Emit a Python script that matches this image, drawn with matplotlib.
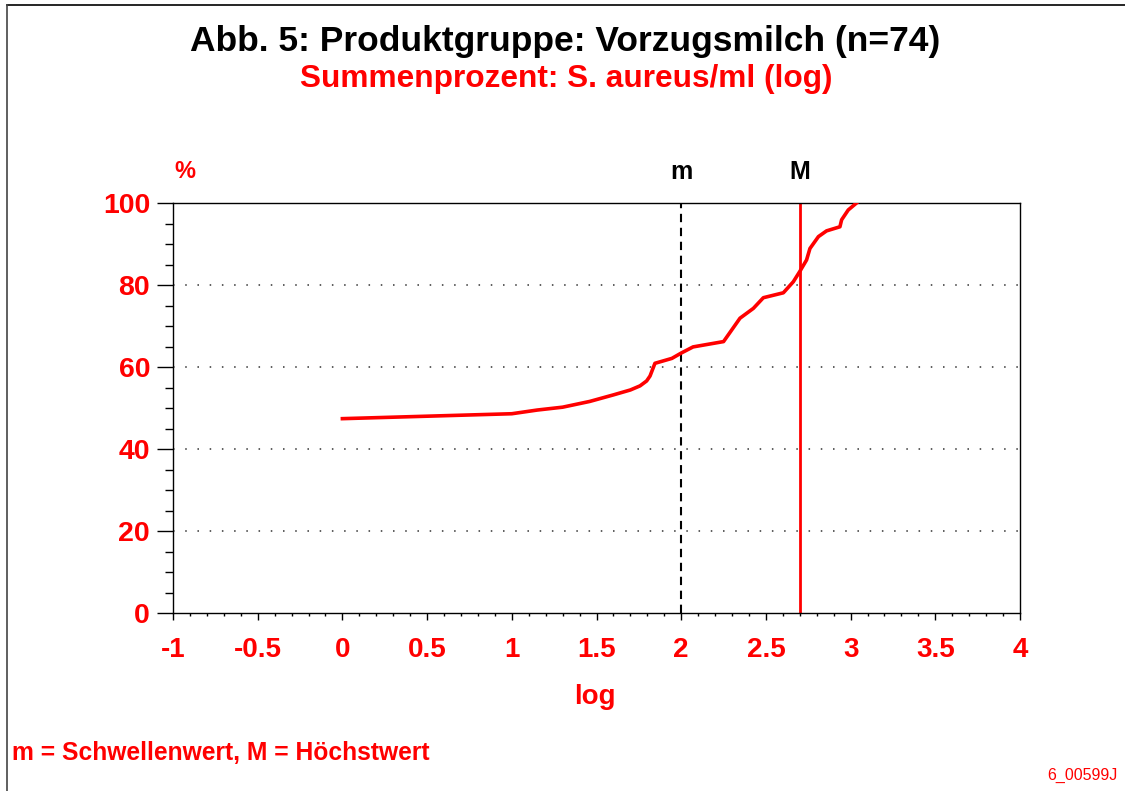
import matplotlib
matplotlib.use("Agg")
import matplotlib.pyplot as plt
from matplotlib.lines import Line2D
from matplotlib.ticker import MultipleLocator, FuncFormatter

plt.rcParams['font.family'] = ['Liberation Sans', 'DejaVu Sans']
plt.rcParams['axes.unicode_minus'] = False

# Data (log10 S. aureus/ml, cumulative percent)
log_values = [0.0, 1.0, 1.15, 1.30, 1.46, 1.60, 1.70, 1.757, 1.796, 1.816, 1.845,
              1.945, 2.0, 2.07, 2.25, 2.347, 2.426, 2.485, 2.603, 2.662, 2.70,
              2.74, 2.76, 2.81, 2.858, 2.937, 2.947, 2.986, 3.035]
cum_percent = [47.4, 48.6, 49.5, 50.2, 51.6, 53.2, 54.4, 55.4, 56.6, 57.8, 60.9,
               62.1, 63.4, 64.9, 66.2, 71.9, 74.3, 76.9, 78.1, 80.8, 83.3,
               86.1, 88.9, 91.8, 93.2, 94.2, 95.9, 98.3, 100.0]
m_value = 2.0          # Schwellenwert (log)
M_value = 2.699        # Höchstwert (log)
x_ticks = [-1, -0.5, 0, 0.5, 1, 1.5, 2, 2.5, 3, 3.5, 4]
y_ticks = [0, 20, 40, 60, 80, 100]

RED = '#ff0000'

fig = plt.figure(figsize=(11.25, 7.91), dpi=100)
ax = fig.add_axes([173/1125, 1-613/791, (1020-173)/1125, (613-203)/791])

ax.set_xlim(-1, 4)
ax.set_ylim(0, 100)

for yv in y_ticks[1:-1]:
    ax.axhline(yv, color='#333333', lw=1.1, linestyle=(0, (1, 7.0)), zorder=1)

ax.axvline(m_value, color='black', lw=1.5, linestyle=(0, (4, 2.7)), zorder=2)
ax.axvline(M_value, color=RED, lw=2, zorder=2)
ax.plot(log_values, cum_percent, color=RED, lw=2.6, solid_joinstyle='round', zorder=3)

ax.set_xticks(x_ticks)
ax.set_yticks(y_ticks)
ax.xaxis.set_minor_locator(MultipleLocator(0.1))
ax.yaxis.set_minor_locator(MultipleLocator(5))
ax.xaxis.set_major_formatter(FuncFormatter(lambda v, p: f"{v:g}"))
ax.tick_params(axis='x', which='major', direction='out', length=5, width=1,
               pad=12, labelsize=20, labelcolor=RED)
ax.tick_params(axis='x', which='minor', direction='out', length=2.5, width=1)
ax.tick_params(axis='y', which='major', direction='out', length=11.5, width=1,
               pad=5, labelsize=20.5, labelcolor=RED)
ax.tick_params(axis='y', which='minor', direction='out', length=5.8, width=1)
for lab in ax.get_xticklabels() + ax.get_yticklabels():
    lab.set_fontweight('bold')
for s in ax.spines.values():
    s.set_linewidth(1)
    s.set_color('black')

fig.text(565/1125, 1-42/791, 'Abb. 5: Produktgruppe: Vorzugsmilch (n=74)',
         ha='center', va='center', fontsize=25.5, color='black', fontweight='bold')
fig.text(566/1125, 1-79/791, 'Summenprozent: S. aureus/ml (log)',
         ha='center', va='center', fontsize=22.8, color=RED, fontweight='bold')
fig.text(185/1125, 1-172/791, '%', ha='center', va='center', fontsize=17,
         color=RED, fontweight='bold')
ax.text(m_value, 1.075, 'm', transform=ax.get_xaxis_transform(), ha='center',
        va='center', fontsize=18, fontweight='bold', color='black')
ax.text(M_value, 1.075, 'M', transform=ax.get_xaxis_transform(), ha='center',
        va='center', fontsize=18, fontweight='bold', color='black')
fig.text(595/1125, 1-697/791, 'log', ha='center', va='center', fontsize=20,
         color=RED, fontweight='bold')
fig.text(12/1125, 1-753/791, 'm = Schwellenwert, M = Höchstwert', ha='left',
         va='center', fontsize=17.75, color=RED, fontweight='bold')
fig.text(1118/1125, 1-775/791, '6_00599J', ha='right', va='center',
         fontsize=11.5, color=RED)

fig.add_artist(Line2D([7/1125, 1], [1-5/791, 1-5/791], color='black', lw=1.2,
                      transform=fig.transFigure))
fig.add_artist(Line2D([7/1125, 7/1125], [0, 1-5/791], color='#444444', lw=1.2,
                      transform=fig.transFigure))

fig.savefig('out.png', dpi=100)
